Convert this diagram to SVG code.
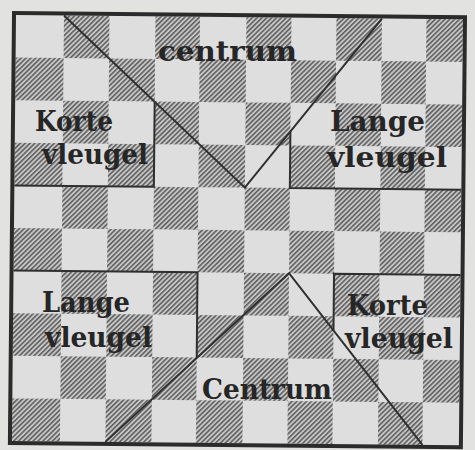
<svg xmlns="http://www.w3.org/2000/svg" xmlns:xlink="http://www.w3.org/1999/xlink" width="475" height="450" viewBox="0 0 475 450">
<style>
.lbl{font-family:"DejaVu Serif","Liberation Serif",serif;font-weight:bold;font-size:28px;fill:#262626}
.zone{fill:none;stroke:#2f2f2f;stroke-width:2;stroke-linejoin:miter}
.dk{fill:url(#h)}
</style>
<defs>
<pattern id="h" patternUnits="userSpaceOnUse" width="3.4" height="3.4" patternTransform="rotate(45)">
<rect width="3.4" height="3.4" fill="#c6c6c6"/>
<line x1="0.8" y1="0" x2="0.8" y2="3.4" stroke="#5a5a5a" stroke-width="1.5"/>
</pattern>
<g id="rowA">
<rect class="dk" x="48" y="0" width="45.5" height="42.6"/>
<rect class="dk" x="139.5" y="0" width="44.5" height="42.6"/>
<rect class="dk" x="230.5" y="0" width="45" height="42.6"/>
<rect class="dk" x="320.5" y="0" width="45.5" height="42.6"/>
<rect class="dk" x="410.5" y="0" width="36.5" height="42.6"/>
</g>
<g id="rowB">
<rect class="dk" x="0" y="0" width="48" height="42.6"/>
<rect class="dk" x="93.5" y="0" width="46" height="42.6"/>
<rect class="dk" x="184" y="0" width="46.5" height="42.6"/>
<rect class="dk" x="275.5" y="0" width="45" height="42.6"/>
<rect class="dk" x="366" y="0" width="44.5" height="42.6"/>
</g>
</defs>
<rect width="475" height="450" fill="#e2e2e0"/>
<g id="board" transform="translate(16 15) rotate(0.55)">
<rect x="0" y="0" width="447" height="426" fill="#dedede"/>
<use xlink:href="#rowA" y="0"/>
<use xlink:href="#rowB" y="42.6"/>
<use xlink:href="#rowA" y="85.2"/>
<use xlink:href="#rowB" y="127.8"/>
<use xlink:href="#rowA" y="170.4"/>
<use xlink:href="#rowB" y="213"/>
<use xlink:href="#rowA" y="255.6"/>
<use xlink:href="#rowB" y="298.2"/>
<use xlink:href="#rowA" y="340.8"/>
<use xlink:href="#rowB" y="383.4"/>
<g id="zones">
<path class="zone" d="M48,0 L230.5,170.4 L366,0"/>
<path class="zone" d="M139.5,85.4 V170.4 H0"/>
<path class="zone" d="M275.5,113.8 V170.4 H447"/>
<path class="zone" d="M93.5,426 L275.5,255.6 L410.5,426"/>
<path class="zone" d="M0,255.6 H184 V341.3"/>
<path class="zone" d="M447,255.6 H320.5 V312.4"/>
</g>
<rect x="-2" y="-2" width="451" height="430" fill="none" stroke="#2b2b2b" stroke-width="4"/>
</g>
<g id="labels">
<text class="lbl" x="158" y="61" textLength="139" lengthAdjust="spacingAndGlyphs">centrum</text>
<text class="lbl" x="35" y="131" textLength="78" lengthAdjust="spacingAndGlyphs">Korte</text>
<text class="lbl" x="42" y="164" textLength="106" lengthAdjust="spacingAndGlyphs">vleugel</text>
<text class="lbl" x="330" y="131" textLength="95" lengthAdjust="spacingAndGlyphs">Lange</text>
<text class="lbl" x="327" y="167" textLength="120" lengthAdjust="spacingAndGlyphs">vleugel</text>
<text class="lbl" x="42" y="312" textLength="88" lengthAdjust="spacingAndGlyphs">Lange</text>
<text class="lbl" x="45" y="347" textLength="107" lengthAdjust="spacingAndGlyphs">vleugel</text>
<text class="lbl" x="347" y="315" textLength="81" lengthAdjust="spacingAndGlyphs">Korte</text>
<text class="lbl" x="345" y="348" textLength="108" lengthAdjust="spacingAndGlyphs">vleugel</text>
<text class="lbl" x="202" y="399" textLength="130" lengthAdjust="spacingAndGlyphs">Centrum</text>
</g>
</svg>
